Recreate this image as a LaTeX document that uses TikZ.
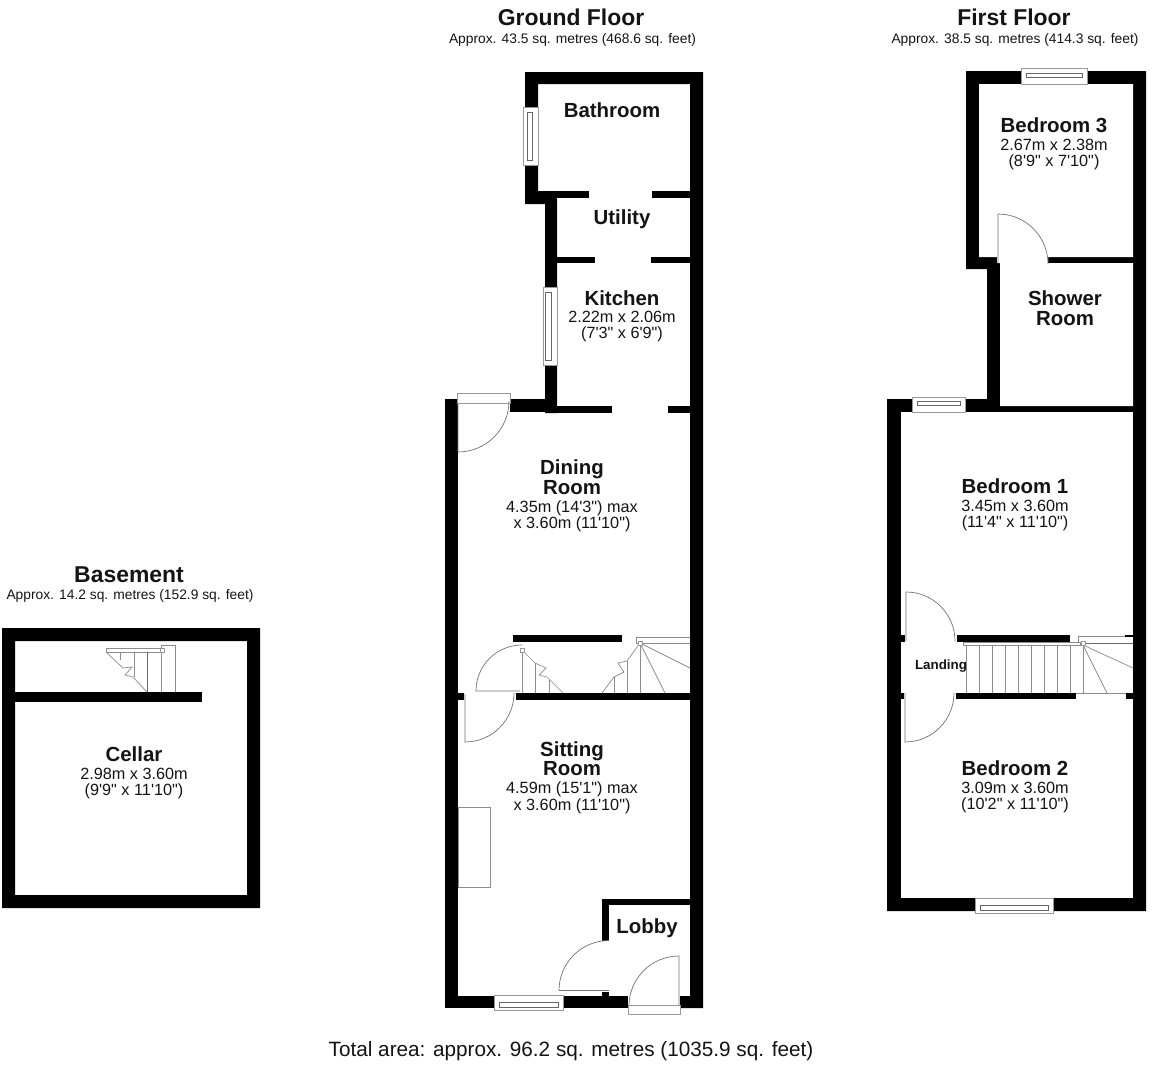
\documentclass[tikz,border=0pt]{standalone}
\usepackage{fontspec}
\usetikzlibrary{calc}
\newfontfamily\planfont{Liberation Sans}
\tikzset{
    every node/.style={font=\planfont,inner sep=0pt,text=black!92},
    wall/.style={fill=black},
    fitting/.style={draw=black!45,line width=0.7bp},
    tread/.style={draw=black!60,line width=0.7bp},
    sill/.style={draw=black!40,fill=white,line width=0.7bp},
    swing/.style={draw=black!55,line width=0.7bp},
    floortitle/.style={font=\planfont\bfseries\fontsize{23}{25}\selectfont},
    floorarea/.style={font=\planfont\fontsize{13.85}{15}\selectfont},
    room/.style={align=center,font=\planfont\fontsize{16.3}{16.3}\selectfont},
    totalarea/.style={font=\planfont\fontsize{20.8}{22}\selectfont},
}
\newcommand{\roomname}[1]{{\bfseries\fontsize{20.5}{20}\selectfont #1}}
\begin{document}
\begin{tikzpicture}[x=1bp,y=-1bp]
    \fill[white] (0,0) rectangle (1152,1065);
    \useasboundingbox (0,0) rectangle (1152,1065);

    \node[floortitle] (basement) at (129,575) {Basement};
    \node[floorarea] (basementarea) at (130,596) {Approx. 14.2 sq. metres (152.9 sq. feet)};
    \node[floortitle] (ground) at (571,17.5) {Ground Floor};
    \node[floorarea] (groundarea) at (572.5,39.5) {Approx. 43.5 sq. metres (468.6 sq. feet)};
    \node[floortitle] (first) at (1014,17) {First Floor};
    \node[floorarea] (firstarea) at (1015,39.5) {Approx. 38.5 sq. metres (414.3 sq. feet)};
    \node[totalarea] (total) at (571,1051.5) {Total area: approx. 96.2 sq. metres (1035.9 sq. feet)};

    % basement
    \fill[wall,even odd rule] (2,628) rectangle (260,908) (15,641) rectangle (247,895);
    \fill[wall] (15,692) rectangle (202,702);
    \draw[fitting] (161,692) -- (161,645) -- (175,645) -- (175,692);
    \draw[fitting] (106,648) rectangle (162,652);
    \draw[sill] (160,648) rectangle (164,652);
    \draw[fitting] (120,652) -- (120,660) (134,652) -- (134,677);
    \draw[tread] (147,652) -- (147,692);
    \draw[fitting] (106,652) -- (123,668) -- (132,667) -- (125,675) -- (133,677) -- (147,692);

    % ground floor walls
    \fill[wall] (525,72) -- (703,72) -- (703,1008) -- (680,1008) -- (680,996) -- (690,996)
        -- (690,84) -- (538,84) -- (538,191) -- (557,191) -- (557,413) -- (545,413) -- (545,204)
        -- (525,204) -- cycle;
    \fill[wall] (545,399) rectangle (510,412);
    \fill[wall] (445,399) rectangle (458,1008);
    \fill[wall] (458,996) rectangle (628,1008);
    \fill[wall] (538,191) rectangle (589,198);
    \fill[wall] (652,191) rectangle (690,198);
    \fill[wall] (557,257) rectangle (595,263);
    \fill[wall] (651,257) rectangle (690,263);
    \fill[wall] (557,406) rectangle (612,413);
    \fill[wall] (668,406) rectangle (690,413);
    \fill[wall] (513,635) rectangle (622,642);
    \fill[wall] (516,693) rectangle (690,700);
    \fill[wall] (458,693) rectangle (464,700);
    \fill[wall] (602,899) rectangle (690,905);
    \fill[wall] (602,899) rectangle (609,941);
    \fill[wall] (602,992) rectangle (609,996);

    \foreach \xa/\ya/\xb/\yb/\ia/\ib in {494/995/563/1010/1002/1007} {
        \draw[sill] (\xa,\ya) rectangle (\xb,\yb);
        \draw[tread] (\xa+5,\ia) rectangle (\xb-5,\ib);
    }
    \foreach \xa/\ya/\xb/\yb/\ia/\ib in {523/107/538/165/527/532,543/287/557/365/545/551} {
        \draw[sill] (\xa,\ya) rectangle (\xb,\yb);
        \draw[tread] (\ia,\ya+5) rectangle (\ib,\yb-5);
    }

    \draw[sill] (457,393) rectangle (510,403);
    \draw[swing] (458,403) -- (458,452) arc[start angle=270,end angle=360,radius=51bp];
    \draw[swing] (520,691) -- (476,691) arc[start angle=180,end angle=90,radius=46bp];
    \draw[swing] (465,694) -- (465,742) arc[start angle=270,end angle=360,radius=49bp];
    \draw[swing] (609,990.5) -- (559,990.5) arc[start angle=180,end angle=90,radius=50bp];
    \fill[white] (628,996) rectangle (680,1005);
    \draw[sill] (628,1005) rectangle (680,1014);
    \draw[swing] (679,1005) -- (679,956) arc[start angle=90,end angle=180,radius=50bp];
    \draw[fitting] (458,807) rectangle (490,887);

    \draw[fitting] (522,650) -- (522,693) (535,663) -- (535,693) (549,680) -- (549,693);
    \draw[fitting] (522,650) -- (535,663) -- (546,668) -- (539,675) -- (547,677) -- (563,693);
    \draw[sill] (520,648) rectangle (524,652);
    \draw[fitting] (690,637) -- (636,637) -- (636,643) -- (690,643);
    \draw[fitting] (640,643) -- (640,693) (627,661) -- (627,693) (614,677) -- (614,693);
    \draw[fitting] (640,643) -- (627,661) -- (618,663) -- (624,672) -- (614,677) -- (602,693);
    \draw[fitting] (640,643) -- (665,693) (640,643) -- (690,668);
    \draw[sill] (638,641) rectangle (642,645);

    % first floor walls
    \fill[wall] (966,71) -- (1146,71) -- (1146,911) -- (887,911) -- (887,399) -- (987,399)
        -- (987,269) -- (966,269) -- cycle;
    \fill[white] (979,84) -- (1133,84) -- (1133,257) -- (1048,257) -- (1048,263) -- (1133,263)
        -- (1133,406) -- (1000,406) -- (1000,263) -- (997,263) -- (997,257) -- (979,257) -- cycle;
    \fill[white] (901,412) rectangle (1133,898);
    \draw[sill] (1021,68) rectangle (1087,84);
    \draw[tread] (1026,73) rectangle (1082,77);
    \draw[sill] (912,397) rectangle (965,412);
    \draw[tread] (917,401) rectangle (960,405);
    \draw[sill] (975,898) rectangle (1053,913);
    \draw[tread] (980,905) rectangle (1048,910);

    \fill[wall] (901,635) rectangle (905,642);
    \fill[wall] (901,693) rectangle (904,699);
    \fill[wall] (957,635) rectangle (1070,642);
    \fill[wall] (956,693) rectangle (1076,699);
    \fill[wall] (1125,635) rectangle (1133,637);
    \fill[wall] (1126,693) rectangle (1133,699);

    \draw[swing] (998,263) -- (998,214) arc[start angle=90,end angle=0,radius=50bp];
    \draw[swing] (906,641) -- (906,592) arc[start angle=90,end angle=0,radius=49bp];
    \draw[swing] (905,693) -- (905,742) arc[start angle=270,end angle=360,radius=49bp];

    \draw[fitting] (963,642) rectangle (1080,645);
    \foreach \xa in {966,979,992,1005,1018,1031,1044,1057,1070,1083} {
        \draw[fitting] (\xa,645) -- (\xa,693);
    }
    \draw[fitting] (1076,693) -- (1126,693);
    \draw[fitting] (1078,643) -- (1078,636) -- (1125,636);
    \draw[tread] (1083,643) -- (1133,643);
    \draw[fitting] (1083,645) -- (1107,693) (1083,645) -- (1133,668);
    \draw[sill] (1081,641) rectangle (1085,645);

    \node[room] (cellar) at (134,773) {\roomname{Cellar}\\[1bp]2.98m x 3.60m\\(9'9" x 11'10")};
    \node[room] (bathroom) at (612,110) {\roomname{Bathroom}};
    \node[room] (utility) at (622,219) {\roomname{Utility}};
    \node[room] (kitchen) at (622,316.5) {\roomname{Kitchen}\\[1bp]2.22m x 2.06m\\(7'3" x 6'9")};
    \node[room] (dining) at (572,496) {\roomname{Dining}\\\roomname{Room}\\[2bp]4.35m (14'3") max\\x 3.60m (11'10")};
    \node[room] (sitting) at (572,777.5) {\roomname{Sitting}\\\roomname{Room}\\[2bp]4.59m (15'1") max\\x 3.60m (11'10")};
    \node[room] (lobby) at (647,928.5) {\roomname{Lobby}};
    \node[room] (bedthree) at (1054,144) {\roomname{Bedroom 3}\\[1bp]2.67m x 2.38m\\(8'9" x 7'10")};
    \node[room] (shower) at (1065,308) {\roomname{Shower}\\[3.7bp]\roomname{Room}};
    \node[room] (bedone) at (1015,505) {\roomname{Bedroom 1}\\[1bp]3.45m x 3.60m\\(11'4" x 11'10")};
    \node[room] (bedtwo) at (1015,787) {\roomname{Bedroom 2}\\[1bp]3.09m x 3.60m\\(10'2" x 11'10")};
    \node[font=\planfont\bfseries\fontsize{13.4}{15}\selectfont] (landing) at (941,666) {Landing};
\end{tikzpicture}
\end{document}
